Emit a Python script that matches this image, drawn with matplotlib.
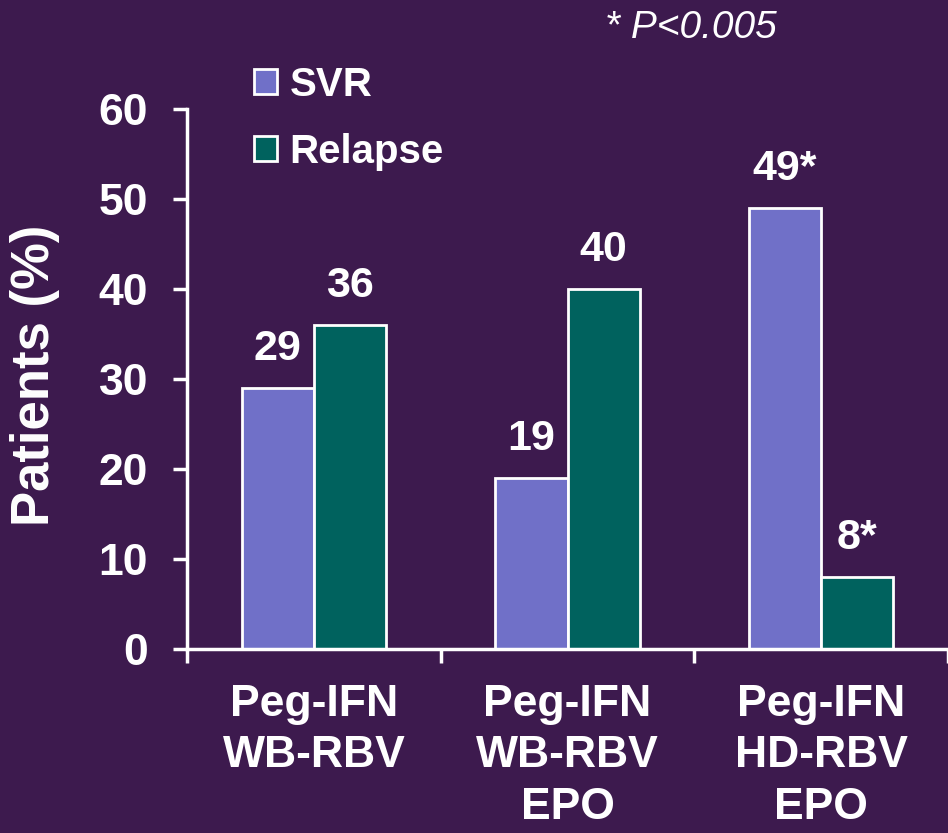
import matplotlib
matplotlib.use("Agg")
import matplotlib.pyplot as plt
import numpy as np

categories = ["Peg-IFN\nWB-RBV", "Peg-IFN\nWB-RBV\nEPO", "Peg-IFN\nHD-RBV\nEPO"]
svr = [29, 19, 49]
relapse = [36, 40, 8]
svr_labels = ["29", "19", "49*"]
relapse_labels = ["36", "40", "8*"]
yticks = [0, 10, 20, 30, 40, 50, 60]

bg = "#3d1a4e"
c_svr = "#7070c8"
c_rel = "#00625e"

plt.rcParams['font.family'] = ['Liberation Sans', 'DejaVu Sans']

fig = plt.figure(figsize=(9.48, 8.33), dpi=100, facecolor=bg)
ax = fig.add_axes([187/948, 1-649/833, 1-187/948, (649-109)/833])
ax.set_facecolor(bg)

x = np.arange(len(categories))
w = 0.285
b1 = ax.bar(x - w/2, svr, w, color=c_svr, edgecolor="white", linewidth=2, label="SVR")
b2 = ax.bar(x + w/2, relapse, w, color=c_rel, edgecolor="white", linewidth=2, label="Relapse")

for rect, lab in zip(b1, svr_labels):
    ax.annotate(lab, (rect.get_x() + rect.get_width()/2, rect.get_height()),
                xytext=(0, 14), textcoords="offset points", ha="center", va="bottom",
                color="white", fontsize=31, fontweight="bold")
for rect, lab in zip(b2, relapse_labels):
    ax.annotate(lab, (rect.get_x() + rect.get_width()/2, rect.get_height()),
                xytext=(0, 14), textcoords="offset points", ha="center", va="bottom",
                color="white", fontsize=31, fontweight="bold")

ax.set_xlim(-0.5, 2.43)
ax.set_ylim(0, 60)
ax.set_yticks(yticks)
ax.set_yticklabels([str(v) for v in yticks])
ax.set_xticks(np.arange(len(categories) + 1) - 0.5)
ax.set_xticklabels([])
ax.set_xticks(x, minor=True)
ax.set_xticklabels(categories, minor=True)

for s in ["top", "right"]:
    ax.spines[s].set_visible(False)
for s in ["left", "bottom"]:
    ax.spines[s].set_color("white")
    ax.spines[s].set_linewidth(2.5)

ax.tick_params(axis="y", which="major", direction="out", length=10, width=2.5,
               color="white", labelcolor="white", labelsize=32, pad=18)
ax.tick_params(axis="x", which="major", direction="out", length=10, width=2.5,
               color="white")
ax.tick_params(axis="x", which="minor", length=0, labelcolor="white", labelsize=32, pad=25)
for t in ax.get_yticklabels() + ax.get_xticklabels(minor=True):
    t.set_fontweight("bold")
for t in ax.get_xticklabels(minor=True):
    t.set_linespacing(1.33)

fig.text(35/948, 1-375/833, "Patients (%)", color="white", fontsize=38, fontweight="bold",
         rotation=90, ha="center", va="center")

leg = ax.legend(loc="upper left", bbox_to_anchor=(254/948, 1-66/833), bbox_transform=fig.transFigure,
                frameon=False, fontsize=29, handlelength=0.58, handleheight=0.58,
                handletextpad=0.3, labelspacing=0.72, borderpad=0, borderaxespad=0)
for t in leg.get_texts():
    t.set_color("white")
    t.set_fontweight("bold")

fig.text(605/948, 1-28/833, "* P<0.005", color="white", fontsize=28, style="italic",
         ha="left", va="center")

fig.savefig("out.png", dpi=100, facecolor=bg)
